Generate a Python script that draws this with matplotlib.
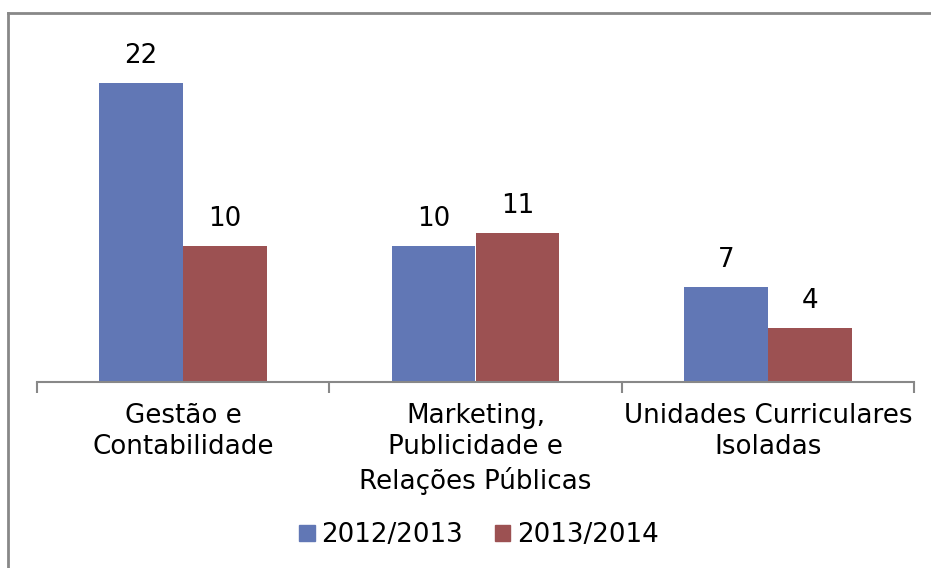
import matplotlib
matplotlib.use("Agg")
import matplotlib.pyplot as plt
from matplotlib.lines import Line2D
from matplotlib.patches import Patch
import numpy as np

categories = ["Gestão e\nContabilidade", "Marketing,\nPublicidade e\nRelações Públicas",
              "Unidades Curriculares\nIsoladas"]
series_names = ["2012/2013", "2013/2014"]
values_2012 = [22, 10, 7]
values_2013 = [10, 11, 4]
colors = ["#6177B5", "#9C5152"]

W, H = 931, 568
fig = plt.figure(figsize=(W / 100, H / 100), dpi=100)
fs = 18.8

# outer frame (left and top edges visible)
fig.add_artist(Line2D([8 / W, 8 / W], [0, 1 - 13 / H], transform=fig.transFigure,
                      color="#888888", lw=2))
fig.add_artist(Line2D([8 / W, 1], [1 - 13 / H, 1 - 13 / H], transform=fig.transFigure,
                      color="#888888", lw=2))

left, right = 37 / W, 914 / W
bottom, top = 1 - 382 / H, 1 - 56 / H
ax = fig.add_axes([left, bottom, right - left, top - bottom])

x = np.arange(len(categories))
w = 0.287
b1 = ax.bar(x - w / 2, values_2012, w, color=colors[0], label=series_names[0])
b2 = ax.bar(x + w / 2, values_2013, w, color=colors[1], label=series_names[1])

for bars, vals in ((b1, values_2012), (b2, values_2013)):
    for r, v in zip(bars, vals):
        ax.annotate(str(v), (r.get_x() + r.get_width() / 2, r.get_height()),
                    xytext=(0, 10), textcoords="offset points",
                    ha="center", va="bottom", fontsize=fs, color="black")

ax.set_xlim(-0.5, len(categories) - 0.5)
ax.set_ylim(0, 24)
for s in ("left", "right", "top"):
    ax.spines[s].set_visible(False)
ax.spines["bottom"].set_color("#888888")
ax.spines["bottom"].set_linewidth(1.5)
ax.set_yticks([])

ax.set_xticks(np.arange(-0.5, len(categories), 1.0))
ax.set_xticklabels([])
ax.tick_params(axis="x", which="major", length=8, width=1.5, color="#888888")
ax.set_xticks(x, minor=True)
ax.set_xticklabels(categories, minor=True, fontsize=fs, linespacing=1.28)
ax.tick_params(axis="x", which="minor", length=0, pad=15)

handles = [Patch(color=colors[0]), Patch(color=colors[1])]
fig.legend(handles, series_names, loc="center", bbox_to_anchor=(479 / W, 1 - 535 / H),
           ncol=2, frameon=False, fontsize=fs, handlelength=0.6, handleheight=0.6,
           handletextpad=0.25, columnspacing=1.2)

fig.savefig("out.png", dpi=100, facecolor="white")
